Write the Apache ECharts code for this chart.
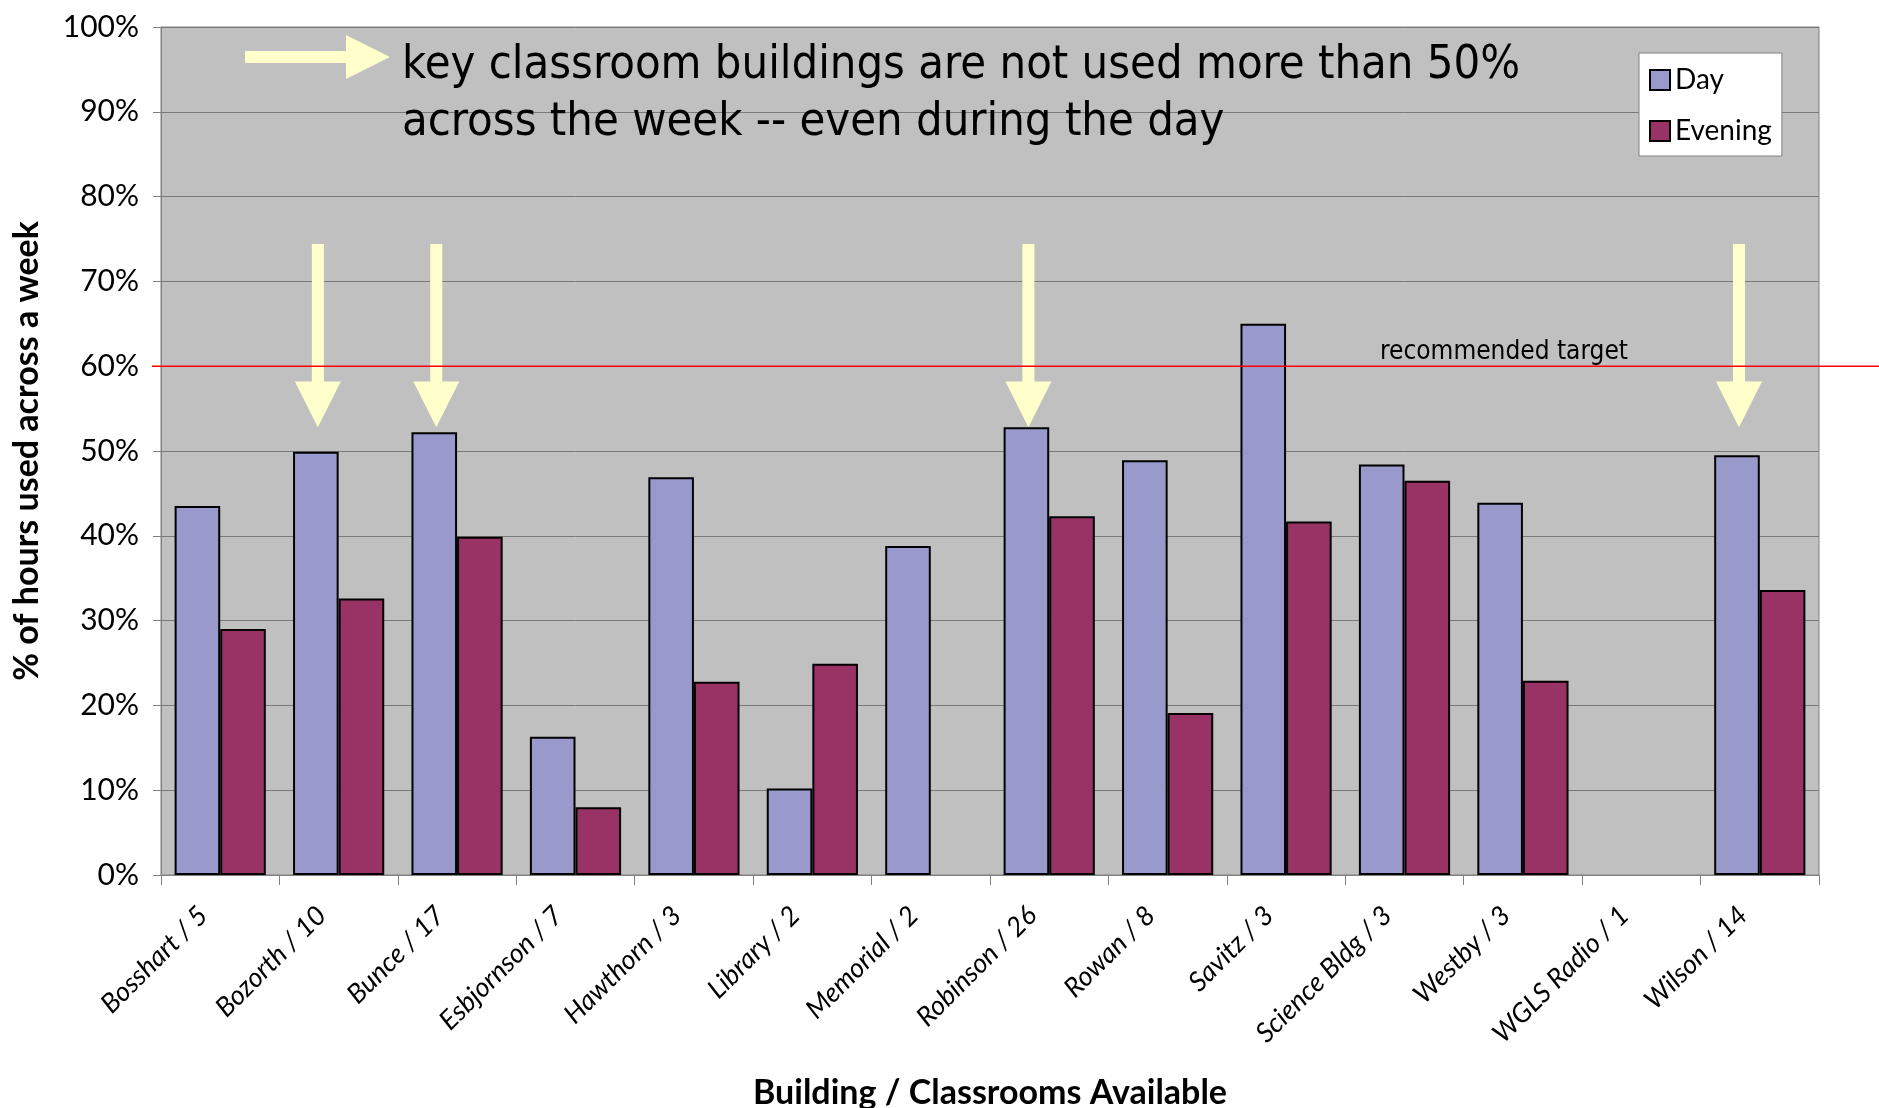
<!DOCTYPE html>
<html>
<head>
<meta charset="utf-8">
<script src="https://cdn.jsdelivr.net/npm/echarts@6/dist/echarts.min.js"></script>
<style>
html,body{margin:0;padding:0;background:#fff;}
#chart{width:1879px;height:1108px;}
</style>
</head>
<body>
<div id="chart"></div>
<script>
const categories = ['Bosshart / 5','Bozorth / 10','Bunce / 17','Esbjornson / 7','Hawthorn / 3','Library / 2','Memorial / 2','Robinson / 26','Rowan / 8','Savitz / 3','Science Bldg / 3','Westby / 3','WGLS Radio / 1','Wilson / 14'];
const dayValues = [43.5, 49.9, 52.2, 16.3, 46.9, 10.2, 38.8, 52.8, 48.9, 65.0, 48.4, 43.9, null, 49.5];
const eveningValues = [29.0, 32.6, 39.9, 8.0, 22.8, 24.9, null, 42.3, 19.1, 41.7, 46.5, 22.9, null, 33.6];
const yMin = 0, yMax = 100, yInterval = 10;
const targetValue = 60;
const targetLabel = 'recommended target';
const arrowCategories = ['Bozorth / 10','Bunce / 17','Robinson / 26','Wilson / 14'];
const arrowTopValue = 74.4, arrowHeadValue = 58.2, arrowTipValue = 52.8;
const noteLines = ['key classroom buildings are not used more than 50%', 'across the week -- even during the day'];

const BAR_GAP = 0.23;
const chart = echarts.init(document.getElementById('chart'));
const option = {
  animation: false,
  backgroundColor: '#ffffff',
  grid: {left: 161, right: 60, top: 27, bottom: 233, outerBoundsMode: 'none', containLabel: false, show: true, backgroundColor: '#C0C0C0', borderColor: '#808080', borderWidth: 1},
  legend: {
    orient: 'vertical', left: 1639, top: 53,
    backgroundColor: '#ffffff', borderColor: '#808080', borderWidth: 1,
    padding: [13, 10, 11, 10], itemGap: 23, itemWidth: 20, itemHeight: 20, icon: 'rect',
    textStyle: {fontFamily: 'Lato', fontSize: 28, color: '#000'},
    data: ['Day', 'Evening']
  },
  xAxis: {
    type: 'category', data: categories,
    name: 'Building / Classrooms Available', nameLocation: 'middle', nameGap: 201,
    nameTextStyle: {fontFamily: 'Lato', fontWeight: 'bold', fontSize: 34, color: '#000'},
    axisLine: {lineStyle: {color: '#808080', width: 1}},
    axisTick: {show: true, interval: 0, length: 10, lineStyle: {color: '#808080'}},
    axisLabel: {interval: 0, rotate: 45, margin: 19, padding: [0, 24, 0, 0], fontFamily: 'Lato', fontStyle: 'italic', fontSize: 27, color: '#000'},
    splitLine: {show: false}
  },
  yAxis: {
    type: 'value', min: yMin, max: yMax, interval: yInterval,
    name: '% of hours used across a week', nameLocation: 'middle', nameGap: 117,
    nameTextStyle: {fontFamily: 'Lato', fontWeight: 'bold', fontSize: 34, color: '#000'},
    axisLine: {show: true, lineStyle: {color: '#808080', width: 1}},
    axisTick: {show: true, length: 8, lineStyle: {color: '#808080'}},
    axisLabel: {formatter: '{value}%', margin: 22, fontFamily: 'Lato', fontSize: 30, color: '#000'},
    splitLine: {show: true, lineStyle: {color: '#7a7a7a', width: 1}}
  },
  series: [
    {name: 'Day', type: 'bar', data: dayValues, barGap: '0%', barCategoryGap: (BAR_GAP*100)+'%',
     itemStyle: {color: '#9999CC', borderColor: '#000', borderWidth: 2}},
    {name: 'Evening', type: 'bar', data: eveningValues, barGap: '0%', barCategoryGap: (BAR_GAP*100)+'%',
     itemStyle: {color: '#993366', borderColor: '#000', borderWidth: 2}}
  ]
};
chart.setOption(option);

function px(cat, v){ return chart.convertToPixel({gridIndex: 0}, [cat, v]); }
const p0 = px(categories[0], 0), p1 = px(categories[1], 0);
const band = p1[0] - p0[0];
const dayOffset = band * (1 - BAR_GAP) / 4;
const graphics = [];
const arrowFill = '#FFFFCC';
arrowCategories.forEach(function(c){
  const x = px(c, 0)[0] - dayOffset + 2;
  const yt = px(c, arrowTopValue)[1], yh = px(c, arrowHeadValue)[1], yp = px(c, arrowTipValue)[1];
  graphics.push({type: 'polygon', z: 100, shape: {points: [[x-6, yt],[x+6, yt],[x+6, yh],[x+23, yh],[x, yp],[x-23, yh],[x-6, yh]]}, style: {fill: arrowFill}});
});
// horizontal arrow next to note
graphics.push({type: 'polygon', z: 100, shape: {points: [[245,51],[346,51],[346,35],[390,57],[346,79],[346,63],[245,63]]}, style: {fill: arrowFill}});
graphics.push({type: 'text', z: 100, x: 402, y: 37, style: {text: noteLines.join('\n'), fontFamily: '"DejaVu Sans Condensed", "DejaVu Sans", sans-serif', fontSize: 46.7, lineHeight: 57, fill: '#000', textVerticalAlign: 'top'}});
const yT = px(categories[0], targetValue)[1];
graphics.push({type: 'line', z: 100, shape: {x1: 152, y1: yT, x2: 1879, y2: yT}, style: {stroke: '#FF0000', lineWidth: 1.5}});
graphics.push({type: 'text', z: 100, x: 1380, y: yT - 1, style: {text: targetLabel, fontFamily: '"DejaVu Sans Condensed", "DejaVu Sans", sans-serif', fontSize: 26, fill: '#000', textVerticalAlign: 'bottom'}});
chart.setOption({graphic: graphics});
</script>
</body>
</html>
